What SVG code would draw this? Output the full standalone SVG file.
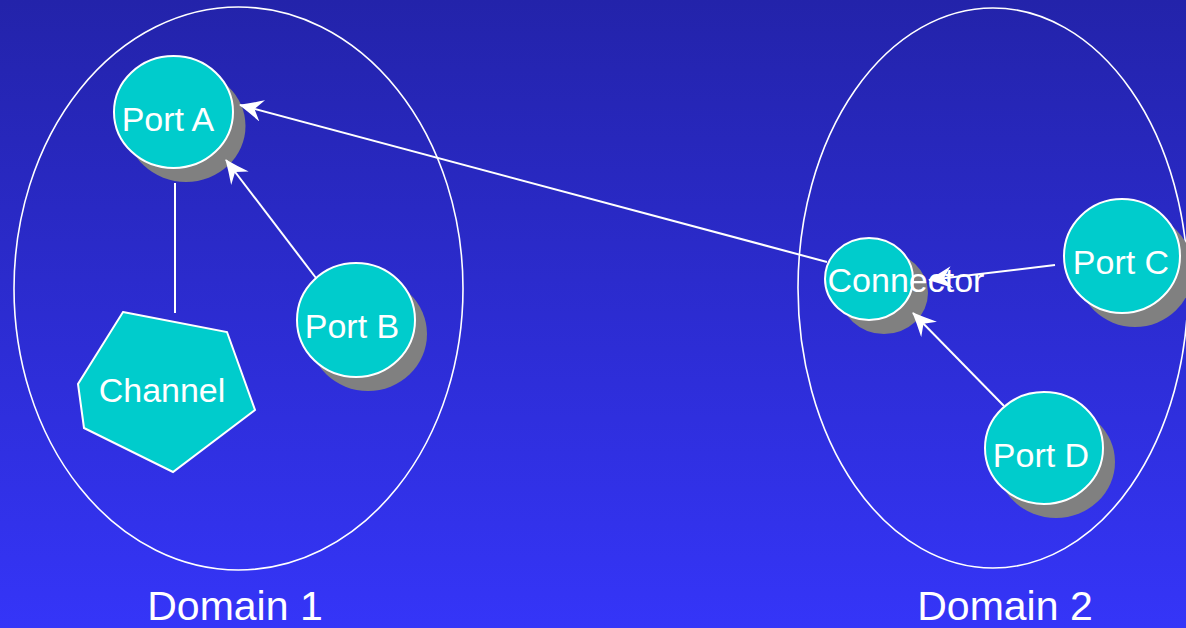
<svg xmlns="http://www.w3.org/2000/svg" width="1186" height="628" viewBox="0 0 1186 628">
  <defs>
    <linearGradient id="bg" x1="0" y1="0" x2="0" y2="1">
      <stop offset="0" stop-color="#2323AA"/>
      <stop offset="1" stop-color="#3535F8"/>
    </linearGradient>
    <marker id="arrow" markerUnits="userSpaceOnUse" markerWidth="24" markerHeight="22" viewBox="0 0 24 22" refX="23" refY="11" orient="auto">
      <path d="M0,0 Q12,6 24,11 Q12,16 0,22 L8,11 Z" fill="#FFFFFF"/>
    </marker>
    <style>
      .domain { fill: none; stroke: #FFFFFF; stroke-width: 1.6; }
      .shadow { fill: #808080; }
      .node { fill: #00CCCC; stroke: #FFFFFF; stroke-width: 2; }
      .label { font-family: "Liberation Sans", Arial, sans-serif; font-size: 34px; fill: #FFFFFF; text-anchor: middle; }
      .dlabel { font-family: "Liberation Sans", Arial, sans-serif; font-size: 41px; fill: #FFFFFF; text-anchor: middle; }
      .edge { stroke: #FFFFFF; stroke-width: 2; fill: none; }
    </style>
  </defs>

  <rect x="0" y="0" width="1186" height="628" fill="url(#bg)"/>

  <!-- domain outlines -->
  <g id="domain1">
    <ellipse class="domain" cx="238.5" cy="288.5" rx="224.5" ry="281.5"/>
    <text class="dlabel" x="235" y="620">Domain 1</text>
  </g>
  <g id="domain2">
    <ellipse class="domain" cx="993" cy="288" rx="195" ry="280"/>
    <text class="dlabel" x="1005" y="620">Domain 2</text>
  </g>

  <!-- nodes -->
  <g id="portA">
    <ellipse class="shadow" cx="186" cy="126" rx="59.5" ry="56"/>
    <ellipse class="node" cx="173.5" cy="112" rx="59.5" ry="56"/>
    <text class="label" x="168" y="131">Port A</text>
  </g>
  <g id="portB">
    <ellipse class="shadow" cx="368" cy="334" rx="59" ry="57"/>
    <ellipse class="node" cx="356" cy="320" rx="59" ry="57"/>
    <text class="label" x="352" y="338">Port B</text>
  </g>
  <g id="channel">
    <polygon class="node" points="123,312 227,332 255,410 173,472 84,428 78,384"/>
    <text class="label" x="162" y="402">Channel</text>
  </g>
  <g id="connector">
    <ellipse class="shadow" cx="884" cy="293" rx="44" ry="41"/>
    <ellipse class="node" cx="869" cy="279" rx="44" ry="41"/>
    <text class="label" x="906" y="292">Connector</text>
  </g>
  <g id="portC">
    <ellipse class="shadow" cx="1135" cy="270" rx="58" ry="57"/>
    <ellipse class="node" cx="1122" cy="256" rx="58" ry="57"/>
    <text class="label" x="1121" y="274">Port C</text>
  </g>
  <g id="portD">
    <ellipse class="shadow" cx="1056" cy="462" rx="59" ry="56"/>
    <ellipse class="node" cx="1044" cy="448" rx="59" ry="56"/>
    <text class="label" x="1041" y="467">Port D</text>
  </g>

  <!-- connectors -->
  <g id="edges">
    <line class="edge" x1="175" y1="183" x2="175" y2="313"/>
    <line class="edge" x1="316" y1="278" x2="226" y2="160" marker-end="url(#arrow)"/>
    <line class="edge" x1="827" y1="262" x2="240" y2="105" marker-end="url(#arrow)"/>
    <line class="edge" x1="1055" y1="265" x2="929" y2="280" marker-end="url(#arrow)"/>
    <line class="edge" x1="1004" y1="406" x2="913" y2="313" marker-end="url(#arrow)"/>
  </g>
</svg>
